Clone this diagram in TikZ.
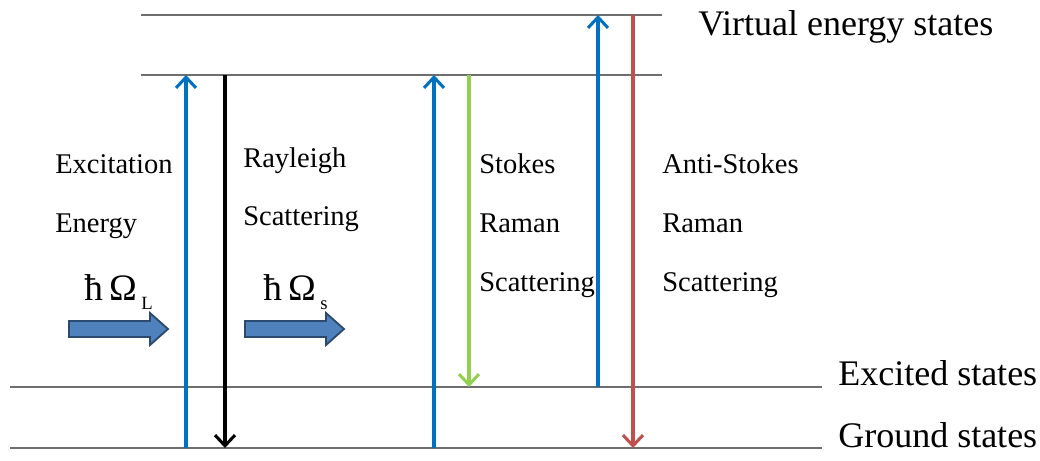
\documentclass[tikz,border=0pt]{standalone}
\usepackage{fontspec}
\setmainfont{Liberation Serif}
\usetikzlibrary{arrows.meta}
\definecolor{lvl}{HTML}{6E6E6E}
\definecolor{tblue}{HTML}{0070C0}
\definecolor{tgreen}{HTML}{92D050}
\definecolor{tred}{HTML}{C0504D}
\definecolor{bafill}{HTML}{4F81BD}
\definecolor{badraw}{HTML}{2C4A6E}
\tikzset{
  level/.style={draw=lvl, line width=1.5pt},
  trans/.style={line width=2.3pt, -{Straight Barb[length=8pt,width=15pt,line width=2.3pt]}},
  lbl/.style={anchor=base west, inner sep=0pt, font=\fontsize{21.4}{26}\selectfont},
  big/.style={anchor=base west, inner sep=0pt, font=\fontsize{27}{32}\selectfont},
  hbar/.style={anchor=base west, inner sep=0pt, font=\fontsize{28}{34}\selectfont},
  sub/.style={anchor=base west, inner sep=0pt, font=\fontsize{14}{16}\selectfont},
  barrow/.style={fill=bafill, draw=badraw, line width=1.4pt, line join=miter}
}
\begin{document}
\begin{tikzpicture}[x=0.75pt,y=-0.75pt]
\useasboundingbox (0,0) rectangle (1040,461);
% level lines
\coordinate (v1a) at (141,15);  \coordinate (v1b) at (662,15);
\coordinate (v2a) at (141,75);  \coordinate (v2b) at (662,75);
\coordinate (exa) at (10,387);  \coordinate (exb) at (822,387);
\coordinate (gra) at (10,448);  \coordinate (grb) at (822,448);
\draw[level] (v1a) -- (v1b);
\draw[level] (v2a) -- (v2b);
\draw[level] (exa) -- (exb);
\draw[level] (gra) -- (grb);
% level labels
\node[big] (tv) at (698,35) {Virtual energy states};
\node[big] (te) at (838,385) {Excited states};
\node[big] (tg) at (838,447) {Ground states};
% transition endpoints
\coordinate (a1s) at (186,448); \coordinate (a1e) at (186,75);
\coordinate (a2s) at (225,75);  \coordinate (a2e) at (225,448);
\coordinate (a3s) at (434,448); \coordinate (a3e) at (434,75);
\coordinate (a4s) at (469,75);  \coordinate (a4e) at (469,387);
\coordinate (a5s) at (598,387); \coordinate (a5e) at (598,15);
\coordinate (a6s) at (633,15);  \coordinate (a6e) at (633,448);
\draw[trans, tblue]  (a1s) -- (a1e);
\draw[trans, black]  (a2s) -- (a2e);
\draw[trans, tblue]  (a3s) -- (a3e);
\draw[trans, tgreen] (a4s) -- (a4e);
\draw[trans, tblue]  (a5s) -- (a5e);
\draw[trans, tred]   (a6s) -- (a6e);
% labels
\node[lbl] (l1a) at (55,173) {Excitation};
\node[lbl] (l1b) at (55,232) {Energy};
\node[lbl] (l2a) at (243,167) {Rayleigh};
\node[lbl] (l2b) at (243,225) {Scattering};
\node[lbl] (l3a) at (479,173) {Stokes};
\node[lbl] (l3b) at (479,232) {Raman};
\node[lbl] (l3c) at (479,291) {Scattering};
\node[lbl] (l4a) at (662,173) {Anti-Stokes};
\node[lbl] (l4b) at (662,232) {Raman};
\node[lbl] (l4c) at (662,291) {Scattering};
% hbar Omega
\node[hbar] (h1) at (84,300) {ħ\,Ω};
\node[sub] (h1s) at (h1.base east) [xshift=3pt,yshift=-7pt] {L};
\node[hbar] (h2) at (263,300) {ħ\,Ω};
\node[sub] (h2s) at (h2.base east) [xshift=3pt,yshift=-7pt] {s};
% block arrows
\draw[barrow] (69,321) -- (150,321) -- (150,313) -- (168,329) -- (150,345) -- (150,337) -- (69,337) -- cycle;
\draw[barrow] (245,321) -- (326,321) -- (326,313) -- (344,329) -- (326,345) -- (326,337) -- (245,337) -- cycle;
\end{tikzpicture}
\end{document}
